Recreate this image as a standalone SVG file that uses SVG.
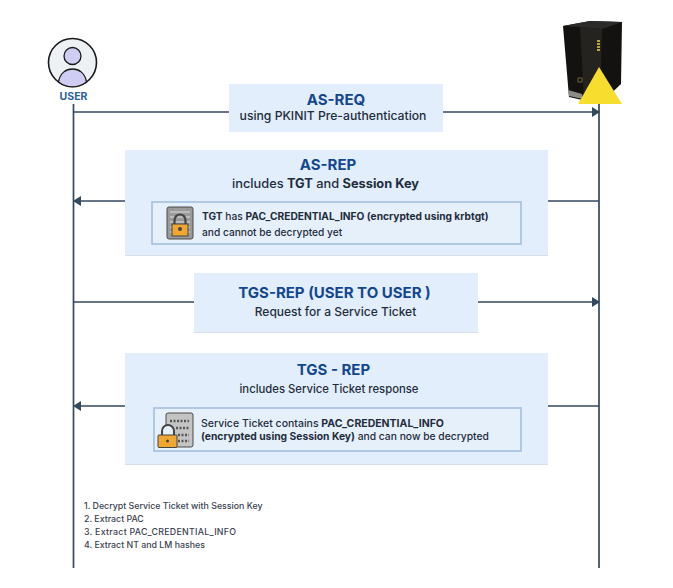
<svg xmlns="http://www.w3.org/2000/svg" width="673" height="588" viewBox="0 0 673 588">
<style>
text{font-family:"Inter","Liberation Sans",sans-serif;text-anchor:middle;fill:#1f2d3d}
.t{font-size:15px;font-weight:700;fill:#12478f}
.s{font-size:12px;font-weight:500}
.d{font-size:10.200px;font-weight:500;text-anchor:start}
.b{font-weight:700}
.l{font-size:8.800px;font-weight:500;text-anchor:start;fill:#3a4250}
.box{fill:#e2eefb;stroke:none}
.sh{fill:#d8dee6}
.in{fill:#e6f0fb;stroke:#a3bfdc;stroke-width:1.6}
.ln{stroke:#33495e;stroke-width:1.7;fill:none}
</style>
<defs><marker id="a" markerWidth="8" markerHeight="10" refX="7" refY="5" orient="auto" markerUnits="userSpaceOnUse"><path d="M0 0L8 5L0 10Z" fill="#33495e"/></marker></defs>
<rect width="673" height="588" fill="#fff"/>
<g id="connectors">
<path class="ln" d="M73.500 104V568M599 104V568"/>
<path class="ln" d="M74 112H599" marker-end="url(#a)"/>
<path class="ln" d="M599 201H74" marker-end="url(#a)"/>
<path class="ln" d="M74 302H599" marker-end="url(#a)"/>
<path class="ln" d="M599 406H74" marker-end="url(#a)"/>
</g>
<g id="user">
<circle cx="72.500" cy="62.500" r="24" fill="#eef1f3" stroke="#1a1a1a" stroke-width="1.6"/>
<path d="M58.500 82C60 73 66 69 72.500 69S85 73 86.500 82C78 88.500 67 88.500 58.500 82Z" fill="#cfcdf3" stroke="#1a1a1a" stroke-width="1.300"/>
<circle cx="72.500" cy="56" r="8.500" fill="#cfcdf3" stroke="#1a1a1a" stroke-width="1.300"/>
<text x="73.500" y="100" style="font-size:10.500px;font-weight:700;fill:#2d5f9e">USER</text>
</g>
<g id="server">
<path d="M563 26L590 21L622 22L621 84L600 104L569 97Z" fill="#141210"/>
<path d="M563 26L590 21L622 22L602 29L580 27Z" fill="#2d2b29"/>
<path d="M580 27L602 29L600 102L584 99Z" fill="#25231f"/>
<path d="M568 90L582 94L583 99L569 96Z" fill="#8b8b88"/>
<path d="M597 41H600M597 44H600M597 47H600M597 50H600" stroke="#b5a53c" stroke-width="2"/>
<rect x="578" y="78" width="4" height="4" fill="none" stroke="#6d6423" stroke-width="1"/>
<path d="M599 67L622 104H578Z" fill="#f6dd2e"/>
</g>
<g id="as-req">
<rect class="box" x="229" y="84" width="214" height="48"/>
<text class="t" x="336" y="105">AS-REQ</text>
<text class="s" x="333" y="120" style="font-size:12.200px">using PKINIT Pre-authentication</text>
</g>
<g id="as-rep">
<rect class="sh" x="125" y="254" width="423" height="2"/>
<rect class="box" x="125" y="150" width="423" height="105"/>
<text class="t" x="328" y="170">AS-REP</text>
<text class="s" x="325.500" y="188" style="font-size:12.800px">includes <tspan class="b">TGT</tspan> and <tspan class="b">Session Key</tspan></text>
<rect class="in" x="152" y="202" width="369" height="42"/>
<g id="doc-lock">
<rect x="167" y="207" width="26" height="32" rx="2" fill="#9a9a9a" stroke="#4a4a4a"/>
<path d="M170 212H190M170 217H190M170 222H190M170 227H190M170 232H190" stroke="#dcdcdc" stroke-width="1"/>
<path d="M174.500 224V220A5.500 5.500 0 0 1 185.500 220V224" fill="none" stroke="#444" stroke-width="2.200"/>
<rect x="172" y="224" width="16" height="12" fill="#f0a732" stroke="#444"/>
<circle cx="180" cy="229" r="2" fill="#444"/>
</g>
<text class="d" x="202" y="220"><tspan class="b">TGT</tspan> has <tspan class="b">PAC_CREDENTIAL_INFO (encrypted using krbtgt)</tspan></text>
<text class="d" x="202" y="236">and cannot be decrypted yet</text>
</g>
<g id="tgs-req">
<rect class="sh" x="194" y="331" width="284" height="2"/>
<rect class="box" x="194" y="273" width="284" height="59"/>
<text class="t" x="334.500" y="298">TGS-REP (USER TO USER )</text>
<text class="s" x="335.500" y="316">Request for a Service Ticket</text>
</g>
<g id="tgs-rep">
<rect class="sh" x="125" y="463" width="423" height="2"/>
<rect class="box" x="125" y="353" width="423" height="111"/>
<text class="t" x="333.500" y="375">TGS - REP</text>
<text class="s" x="329" y="393" style="font-size:11.300px">includes Service Ticket response</text>
<rect class="in" x="154" y="408" width="367" height="43"/>
<g id="cipher-lock">
<rect x="166" y="413" width="27" height="34" rx="2" fill="#c4c4c4" stroke="#4a4a4a"/>
<path d="M170 421H189M176 428H189M178 435H189M178 441H189" stroke="#555" stroke-width="2.500" stroke-dasharray="2 1.500"/>
<path d="M162 435V431A6 6 0 0 1 174 431V435" fill="#e6f0fb" stroke="#444" stroke-width="2"/>
<rect x="158" y="435" width="19" height="12.500" rx="1" fill="#f0a732" stroke="#444"/>
<circle cx="167.500" cy="441" r="1.500" fill="#444"/>
</g>
<text class="d" x="201" y="427" style="font-size:10.500px">Service Ticket contains <tspan class="b">PAC_CREDENTIAL_INFO</tspan></text>
<text class="d" x="201" y="440" style="font-size:10.300px"><tspan class="b">(encrypted using Session Key)</tspan> and can now be decrypted</text>
</g>
<g id="steps">
<text class="l" x="84" y="509">1. Decrypt Service Ticket with Session Key</text>
<text class="l" x="84" y="522">2. Extract PAC</text>
<text class="l" x="84" y="535" textLength="152" lengthAdjust="spacing">3. Extract PAC_CREDENTIAL_INFO</text>
<text class="l" x="84" y="548">4. Extract NT and LM hashes</text>
</g>
</svg>
